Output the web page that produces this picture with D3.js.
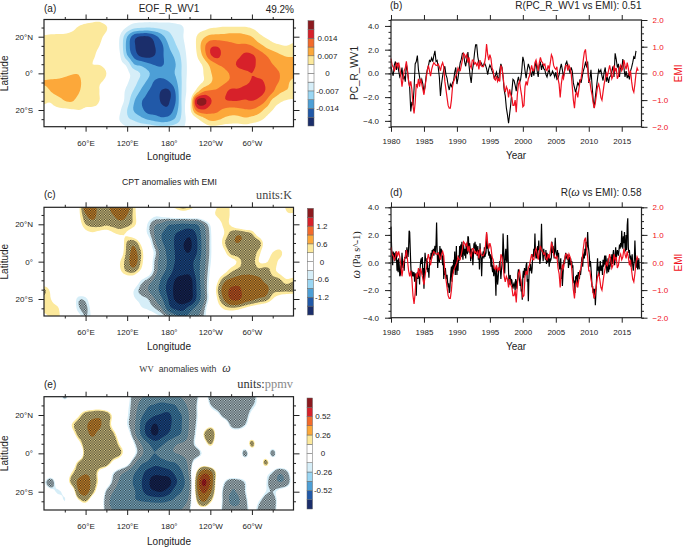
<!DOCTYPE html>
<html><head><meta charset="utf-8">
<script src="https://cdn.jsdelivr.net/npm/d3@7"></script>
<style>html,body{margin:0;padding:0;background:#fff}svg{display:block}text{font-family:"Liberation Sans",Arial,sans-serif;fill:#222}</style>
</head><body>
<svg id="chart" width="685" height="548"></svg>
<script>
// Field values on a 10 deg x 5 deg grid, in units of one contour interval. Rows run from 30N to 30S, columns 0 to 360E.
const fieldA = [
[0,.2,.2,.2,.3,.4,.6,.7,.7,.3, 0,-.2,-.4,-.6,-.6,-.6,-.6,-.6,-.6,-.5, -.3,0,.1,.1,.2,.2,.2,.2,.2,.1, .1,.1,.1,.1,.1,.1,.1],
[.3,.3,.4,.5,.7,1.1,1.3,1.4,1.5,1.1, .2,-.4,-1.1,-1.7,-1.9,-2,-1.9,-1.7,-1.6,-1.4, -1.1,-.1,.4,.6,.9,1,1.1,1.1,1.1,1.1, .9,.6,.5,.4,.3,.3,.3],
[1.1,1.2,1.2,1.2,1.3,1.4,1.5,1.4,1.2,.7, -.1,-1.1,-3,-4.6,-5.1,-5.1,-4.4,-3.4,-2.4,-1.7, -1.1,-.1,1,1.8,2.3,2.4,2.4,2.5,2.5,2.3, 2,1.3,.9,.7,.6,.6,.6],
[1.2,1.2,1.3,1.3,1.3,1.3,1.3,1.2,1,.5, -.3,-1.2,-3.4,-4.8,-5.7,-5.7,-5,-4.2,-3,-2.1, -1.3,-.3,1.1,2.6,3.8,3.9,3.5,3.2,3.1,3.2, 3,2.4,1.8,1.3,1.1,1,1.2],
[1.2,1.2,1.2,1.2,1.2,1.2,1.2,1.1,.8,.3, -.2,-1,-3,-4.4,-5.3,-5.4,-5,-4.2,-3.4,-2.7, -1.6,-.4,.9,2.3,3.9,4.4,3.5,3.3,3.7,4.2, 4.1,3.6,3,2.6,2.1,1.9,1.9],
[1.2,1.2,1.2,1.2,1.2,1.2,1.1,1,.9,.5, -.1,-.7,-1.3,-3,-3.3,-3.8,-4.1,-4.1,-3.6,-3, -1.8,-.5,.5,1.2,2.3,3,3.2,3.5,4.2,4.4, 4.2,3.8,3.3,3,2.6,2.3,2.2],
[1.4,1.5,1.5,1.7,1.9,1.9,1.2,1.2,2,1, .2,-.3,-.8,-1.4,-2.1,-2.8,-3.5,-3.7,-3.4,-2.9, -1.8,-.5,.4,1,1.9,2.4,2.8,3.1,3.5,3.8, 4,3.8,3.7,3.4,3,2.5,2.2],
[2.1,2.2,2.3,2.4,2.5,2.4,1.2,1.1,1.1,.6, .1,-.4,-.9,-1.6,-2.5,-3.3,-4.2,-4.4,-4.1,-3.3, -1.8,-.4,.4,1.1,1.9,2.5,2.9,3.2,3.5,3.8, 4.1,4.2,3.9,3.4,2.9,2.2,1.8],
[1.5,2,2.4,2.5,2.5,2.1,1.3,1.2,1,.6, .1,-.5,-1.3,-2.2,-3.2,-4,-4.5,-5.1,-5.2,-3.9, -1.7,-.4,1.5,3,3.2,3.2,3.7,4.3,4.2,4.4, 4.5,4.4,3.9,3.1,2.2,1.9,1.8],
[1.1,1.1,1.5,2,2.1,1.6,1.2,1.1,1,.7, .2,-.5,-1.5,-2.9,-3.9,-4.3,-4.6,-5.1,-5.1,-4, -1.6,.2,4.9,5.5,4.2,3.4,3.9,4,4,3.9, 4,3.7,3,1.7,1.2,.9,.8],
[.8,.8,.8,.8,.9,1,.9,.9,.8,.4, .1,-.9,-2,-3.1,-3.7,-4.4,-4.5,-4.7,-4.7,-3.5, -1.7,.5,3.3,3.9,3.4,3.2,2.8,2.6,2.7,2.9, 2.9,2.5,1.7,1,.5,.3,.2],
[.1,.1,.1,.2,.3,.6,.5,.3,.2,.1, -.4,-1.1,-1.8,-2.2,-2.7,-3.1,-3.4,-3.7,-3.5,-2.8, -1.6,-.3,.7,1.6,2.3,2.2,1.8,1.6,1.6,1.8, 1.6,1.3,.8,.3,.1,.1,.1],
[0,0,0,0,0,0,0,0,0,0, -.3,-.6,-.9,-1.1,-1.2,-1.3,-1.5,-1.6,-1.6,-1.4, -1.2,-.2,.2,.4,.6,.6,.5,.5,.5,.5, .4,.2,.1,0,0,0,0]
];
const fieldC = [
[.3,.3,.3,.3,.3,.8,2.6,2.8,1.5,1.6, 2.6,2.8,2.5,1.2,.4,.1,0,.3,.9,1.3, 1.8,1.4,.9,.4,.4,1,1.2,.9,.3,.1, .1,.1,.1,.1,.3,1.2,1.2],
[.1,.1,.1,.1,.1,.8,1.9,2.4,1.6,1.6, 2,2.4,2,1.2,.4,-.3,-.8,-.7,-.3,-.1, 0,0,0,.1,.6,1.1,1.2,.9,.2,0, 0,0,0,0,.1,.8,.9],
[0,0,0,0,0,.6,1.4,1.6,1.6,1.5, 1.6,1.7,1.6,1.2,.2,-1.1,-1.9,-2.2,-2.9,-3, -3.2,-3.1,-3,-2,-.9,.5,1.1,.9,.3,0, 0,0,0,0,0,0,0],
[0,0,0,0,0,.2,.7,.9,.7,.6, .9,1.1,.9,.4,-.3,-1.1,-2.1,-3,-3.3,-4, -4.3,-4.7,-3.9,-2.4,-1.2,.4,1,1.6,1.9,1.7, 1.4,.5,.2,0,0,0,0],
[0,0,0,0,0,0,.1,.1,.1,.1, .1,.4,1.5,1.8,.8,-.3,-1.8,-2.9,-3.3,-4.2, -4.9,-5.2,-4.2,-2.5,-1.2,.2,1.3,1.9,2,1.9, 1.8,1.7,.5,.1,0,0,0],
[0,0,0,0,0,0,0,0,0,0, .1,.5,1.6,2.2,1.4,-.1,-1.2,-2.5,-3.3,-4.1, -4.8,-5,-4.1,-2.5,-1.2,.1,.8,1.6,1.8,1.9, 1.8,1.2,.5,1,1.3,.3,0],
[0,0,0,0,0,0,0,0,0,0, .3,1,1.7,2.4,1.3,.1,-1.5,-2.5,-3.2,-4.1, -4.5,-4.4,-3.6,-2.4,-1.1,0,.4,.7,1.1,1.7, 1.7,1,.9,1.3,.8,.1,0],
[0,0,0,0,0,0,0,0,0,0, .2,.9,1.5,1.6,.8,-.2,-1.6,-2.6,-3.4,-4.4, -4.6,-4.6,-3.6,-2.3,-.9,.1,.7,1.3,1.6,1.7, 1.8,1.6,1.7,1.2,.8,.3,.1],
[0,0,0,0,0,0,0,0,0,0, .1,.2,.3,.1,-1,-1.6,-2.2,-3.2,-4.2,-5.1, -5.5,-5.5,-3.9,-2.2,-.7,.8,1.8,2.2,2.4,2.5, 2.3,2.2,1.8,1.6,1.5,1.1,1.3],
[1.5,.8,.1,0,0,0,0,0,0,0, 0,-.1,-.3,-1,-1.6,-2,-2.6,-3.4,-4.4,-5.3, -5.8,-5.6,-4,-2.3,-.5,1.3,2.4,3.2,3.3,2.6, 2.5,2.5,2.3,1.6,1.6,1.6,1.7],
[1.2,1,.4,0,-.2,-1.3,-1.2,-.2,0,0, 0,-.1,-.2,-.9,-1.2,-1.4,-2,-2.9,-4.1,-5.2, -5.6,-5.5,-3.9,-2.3,-.6,1,2.1,3.1,3.2,2.5, 2.2,1.9,1.7,1,.5,.2,0],
[1.2,1.2,1.1,.1,-.2,-1.3,-1.6,-.6,-.1,0, 0,-.1,-.1,-.3,-.9,-1.1,-1.4,-2,-3.6,-4.2, -4.4,-3.5,-2.7,-1.7,-.1,.6,1.1,1.3,1.2,.9, .6,.3,.1,0,0,0,0],
[.8,1.1,1.2,.3,-.1,-.6,-1.4,-.8,-.1,0, 0,0,0,0,-.1,-.4,-.7,-1,-1.6,-2.6, -3,-2.7,-2.1,-1.4,-.2,.2,.4,.3,.2,.1, -.3,-1.2,-.5,0,0,0,0]
];
const fieldE = [
[0,0,0,-1.6,0,0,0,0,0,0, 0,-.2,-.6,-1.6,-1.9,-2.1,-2.4,-2.4,-2.3,-2.1, -1.9,-1.7,-1.4,-.3,-1.6,-1.8,-1.8,-1.9,-1.9,-1.9, -1.7,-.7,0,0,0,0,0],
[0,0,0,0,0,.2,.3,.4,.4,.2, 0,-.2,-.8,-1.6,-2.3,-2.9,-3.1,-3.3,-3.2,-3, -2.3,-1.8,-1.2,0,-1.1,-1.6,-1.8,-1.9,-1.9,-1.9, -1.3,-.7,0,0,0,0,0],
[0,0,0,0,.3,.9,1.5,1.7,1.8,1.6, .8,.1,-.9,-1.7,-2.8,-3.4,-3.9,-4.1,-4.2,-3.4, -2.9,-1.9,-1.2,-.1,-.3,-.7,-1.6,-1.9,-1.8,-1.6, -.7,-.1,0,0,0,0,0],
[0,0,0,0,1,1.5,1.9,2.2,2.1,1.6, .7,-.1,-1,-1.8,-3.2,-4.4,-5.1,-4.5,-4.2,-3.6, -2.9,-1.9,-1.1,.1,.6,.4,-.1,-1.4,-1.7,-1.2, -.3,0,0,0,0,0,0],
[0,0,0,0,.6,1.4,1.8,2.1,1.8,1.7, 1.3,.4,-.5,-1.7,-3.1,-4.4,-5.2,-4.4,-3.9,-3.3, -2.8,-1.8,-.9,1,2,.5,0,-.3,-.3,-.1, 0,0,0,0,0,0,0],
[0,0,0,0,0,.7,1.6,1.7,1.7,1.7, 1.6,.9,.2,-1,-2,-2.9,-3.5,-3.2,-2.6,-2.1, -1.9,-1.7,-.8,.3,1.3,.3,0,0,0,0, 1.5,0,0,0,0,0,0],
[0,0,0,0,0,0,1.5,1.6,1.6,1.7, 1.6,1.3,.3,-.8,-1.7,-2.6,-3,-2.6,-2.2,-2, -1.9,-1.8,-1.6,-.8,0,0,0,0,0,-1.6, 0,0,0,-1.6,0,0,0],
[0,0,0,0,.3,1.3,1.7,1.7,1.7,1.6, .7,.1,-.6,-1.8,-2.8,-3.2,-3.7,-3.5,-3.2,-3, -2.4,-1.7,-.3,.3,0,0,0,0,0,0, 0,0,1.5,0,0,0,0],
[0,0,0,.2,1,1.6,1.9,1.7,.8,.1, -1,-1.7,-2.2,-2.9,-3.6,-4.4,-4.7,-4.6,-4.4,-3.7, -3,-1.7,1.1,2.7,2.4,.7,0,0,0,0, 0,-.1,-.6,-1.2,-1.9,-1.4,-.3],
[-.9,-1.7,-.3,.3,1.4,2.2,2.5,1.7,.8,-.3, -1.4,-2.2,-2.7,-3.1,-3.9,-4.8,-5.6,-5.6,-5.4,-4.2, -3.3,-2,1.8,4.3,2.9,.4,-1,-1.7,-1.6,-1.1, -.1,0,-.9,-1.7,-2,-1.7,-.5],
[-.2,-.6,-1.1,-.7,.2,2,2.4,1.4,.3,-1.3, -2,-2.5,-2.8,-2.9,-3.7,-4.5,-4.9,-5,-4.4,-3.4, -2.9,-1.9,1.6,3.2,2.2,.3,-1.5,-2,-1.9,-1.2, -.1,-.2,-1,-1.2,-.7,-.3,0],
[0,0,-.3,-1,-.1,.8,1.2,.3,-.2,-1.6, -2.3,-2.6,-2.6,-2.9,-3,-3.1,-3.2,-3.2,-3,-2.7, -2.4,-1.6,1,2.1,1.2,.1,-1.5,-2.1,-2.1,-1.5, -.4,-1,-1.7,-1.7,-.5,0,0],
[0,0,0,0,0,0,0,0,0,-1.6, -2,-2.1,-2.1,-2.1,-2.1,-2.1,-2.1,-2.1,-2.1,-2, -1.9,-1.2,.2,.4,.1,-.2,-1.6,-1.8,-1.8,-1.6, -.6,-1.4,-1.8,-1.7,-.3,0,0]
];
// Time series, one row per year from 1980
const pcWv1 = [
.6,.1,-.2,.7,1,.3, .9,.2,-.3,-.1,.5,-.5, -.2,-.7,.8,.2,-.6,-1.2, -3.2,-2.4,-2.7,-1.3,.8,1, 1.5,.3,-.3,-.8,-.5,-.9,
-1.6,-1.1,-.2,.3,.6,1.1, 1,1.3,1,1.5,1.9,1, 1.1,.5,-.3,-1.9,-.9,-.2, .3,.6,-.1,-.4,-1,-1.4, -.9,-1.1,-.8,-.6,.1,.5,
-.9,-.4,.3,.9,1.2,1.7, 1.7,1,.6,1.2,1.8,.7, -.2,-.8,.2,.8,1.7,2.4, 2.4,1.4,.9,.7,.9,.7, .6,.9,.7,.4,-.1,.4,
.7,.5,.2,0,-.4,-.2, .1,-.3,-.6,.3,.8,.5, -.3,-1.4,-1.9,-2.9,-3.5,-4.2, -3.4,-2.6,-1.5,-.5,-.6,-1, -1.5,-.7,-.3,-.8,-.5,.2,
1.4,1,.2,-.4,.3,.8, .5,.1,-.3,.4,-.2,.5, 1,.2,-.3,.7,.9,.3, .8,.4,.3,-.1,-.3,.1, .3,-.2,-.1,.2,0,-.3,
.1,-.5,-.4,-.1,.4,.8, .3,-.3,.2,.8,1,.6, .4,0,.5,.2,-.8,-1.2, -1.6,-1.2,-.8,-1,-.5,-.8, -.3,.2,.5,.9,.6,1,
-.8,-.5,.3,-1,-2.2,-2.9, -2,-1.2,-.4,.3,.1,.3, -.2,-.6,.1,.5,-.7,-.3, -.8,-.3,-.2,.2,.6,-.3, 1.7,1.2,.5,.8,-.3,.7,
.3,1.2,.5,-.3,.2,-.4, -.1,-.5,.2,.5,.9,1.4, 1.3,1.9
];
const emi = [
.55,.3,.25,.1,.2,.4, .25,.4,.2,-.1,-.5,-.2, .1,.2,.45,.1,-.3,-.5, -.3,-.6,-1.2,-1.5,-1.1,-.4, -.5,-.2,-.5,-.2,-.4,-.6,
-.8,-.5,-.2,.1,.3,.1, -.1,.15,.3,.4,.35,.3, .3,.35,.25,.1,.3,.4, .25,-.3,-.6,-.9,-1.2,-1.3, -1.3,-1,-.5,-.3,-.2,-.1,
0,.2,.1,.1,.3,.5, .75,.7,.6,.7,.4,.6, .3,.2,.5,.5,.35,.4, .3,.4,.15,.5,.3,.25, .25,.35,.6,1.1,.7,.5,
.7,.55,.2,.1,-.2,-.25, -.1,-.3,-.2,-.3,.3,.2, -.1,-.5,-.7,-.5,-.6,-.9, -.6,-.8,-.9,-1.2,-1.2,-1, -1.45,-.8,-.4,-.3,-.6,-.85,
-1.25,-1.2,-.5,-.3,-.45,-.2, -.1,.1,.3,.1,.1,.4, .5,.3,.1,.4,.6,.45, .4,.3,.35,.15,.1,.3, .15,.4,.7,.6,.3,.2,
.15,.25,-.2,-.4,-.9,-.4, -.1,-.2,.1,.3,.3,.1, .3,.2,0,-.5,-1,-1.3, -.8,-.7,-.9,-.6,-.3,-.2, .1,.5,.8,.9,.5,.2,
-.3,-.3,-.6,-.8,-1.1,-1.3, -1.1,-.8,-.5,-.4,-.6,-.9, -1,-.7,-.4,-.2,0,-.1, .1,.3,.1,-.2,-.1,.3, .1,.2,-.2,-.1,.2,.3,
.1,.2,.5,.3,.15,.4, .2,-.1,.1,-.3,-.6,-.7, -.4,0,.2,.1
];
const omega = [
2.6,1.2,.3,-.2,.8,.5,.7,.1,.4,.8,.3,-.6, .2,-.7,.3,-.2,-1,-.9,-.2,-.5,.7,.1,-.4,.1, -.6,.4,.3,.9,.3,1.1,.7,.4,1,2.3,2.2,1,
-.2,-1,-.6,-.9,-.8,-1,-.7,-1.4,-.8,-.9,-2.4,-1, -.7,-1.2,-.6,-.5,-1.6,-.4,.1,.3,-.1,.4,-.9,-.4, -1.9,-.4,.7,.1,.3,-.5,.1,-.7,-.4,-1.1,-.1,.4,
.2,.7,.3,.9,.6,1,.5,.9,1.2,.7,1.4,2.9, .9,-.4,.6,.7,0,1.2,.4,1,.9,.3,-.2,.5, -1.2,-.6,-.9,-.4,-1,-1.2,-.9,-1.4,-1.8,-1.5,-2.2,-2.1,
-1.3,-.7,-.3,-1.4,-.2,-.8,.2,-.5,.8,-.9,-.2,1.2, -.9,.3,-.6,.5,.1,1.2,.5,1.3,.4,1.5,.7,.2, 1.3,.8,.5,1,.3,1.4,.9,.6,1.9,1.8,.7,1.4,
1.1,.1,1,.3,.8,-.2,.5,1.4,1,1.5,.6,1.3, .9,.5,1.2,.2,.9,-.5,1.4,.6,.3,-1,.2,.6, .8,.3,1.1,.4,.6,.7,2.1,1,1.4,.9,.5,.8,
.3,.6,-.3,.5,-.4,-.7,-.2,-1,-.6,-.4,-1.1,-2.4, -.3,-.9,-1.6,-1.2,-.6,-.3,.1,-.4,-1.2,-.6,-.2,.3, 2.1,1,-.4,-.8,.5,1,.2,0,2,.7,-.7,-1.6,
-1.1,-.9,-1.6,-1.2,-1.3,-1.7,-1.9,-1.6,-1.5,-1.7,-2,-1.2, -1.4,-1.9,-1.5,-.8,-.5,-1,-1.3,-1.7,-1.2,-2.1,-1.9,-2.7, -1,-.6,-1.1,-.4,-.9,-.7,-.2,0,-1.4,-1.2,-2.8,-1.2,
-.4,-.6,-.1,-.5,-.8,-.4,.6,.4,1,.6,2.1,.7, .3,1,.3,1.2,.9,1.6,.6,-.1,.3,1.2,2.8,.9, .7,.1,1,.5,.6,.2,.9,-.1,.7,0,.6,.3,
-.3,.3,.1,.2,.4,1.5,.7,1.2,.9,.3,1,1.8, .8,.6,.3,.9,.4,.7,-.2,-.5,-.1,.3,-1.2,-.4, -1.7,-.9,-.3,.2,-.1,.4,.7,.3,.5,.2,.6,-.4,
.1,.4,-.2,.3,-.2,.1,-.4,-.2,-1.2,-1.5,-1.3,-2.2, -1,-1.2,-.9,-1.8,-1,-.7,-.9,-1.2,-.6,-.9,-.5,.2, .4,-.3,.5,.6,.3,1,.5,1.5,.9,1.2,2.2,1.2,
.9,.5,-.3,.1,-.4,-1,-1.8,-1.7,-2.2,-1.9,-2.6,-1.9, -3.1,-2.2,-1.4,-.4,.3,-.6,-.3,-1,-.4,.1,-.6,-.5, -.2,-.9,.2,-.3,.1,.5,-.2,.5,.1,-.8,-.4,.3,
-.7,-.2,-.5,.2,.4,-.3,.6,-.1,.5,.9,.4,-.2, .3,1.1,.2,.6,.9,.7,.5,.9,1.3,1,1.4,1.1, 2.3,1.4,1,1.9,1.4,2.2,1.1,.8,2,.9,2.7,3.2,
1.1,.7,.9,.3,.5,-.3,.1,.6,-.2,-.6,-.2,.2, 1.6,.5,-.4,-.1,.3,-.5,-.2,.3,-.5
];
const lonTicks = [60,120,180,240,300];
const lonLabels = ["60°E","120°E","180°","120°W","60°W"];
const lonMinor = [30,90,150,210,270,330];
const latTicks = [20,0,-20];
const latLabels = ["20°N","0°","20°S"];
const latMinor = [25,15,10,5,-5,-10,-15,-25];
const levelColors = ["#1b2e6b","#2159a8","#4d9fd6","#9ad6f3","#d6eef8","#ffffff","#ffffff","#fce99c","#fca83a","#f26a2b","#d7212a","#8c1a1f"];
const levels = [-5,-4,-3,-2,-1,0,1,2,3,4,5];
const yearTicks = [1980,1985,1990,1995,2000,2005,2010,2015];

const svg = d3.select("#chart");
const defs = svg.append("defs");
const pat = defs.append("pattern").attr("id","stip").attr("patternUnits","userSpaceOnUse").attr("width",2.5).attr("height",2.5);
pat.append("rect").attr("width",2.5).attr("height",2.5).attr("fill","#000").attr("opacity",.12);
pat.append("rect").attr("x",0).attr("y",0).attr("width",1.25).attr("height",1.25).attr("fill","#000").attr("opacity",.68);
pat.append("rect").attr("x",1.25).attr("y",1.25).attr("width",1.25).attr("height",1.25).attr("fill","#000").attr("opacity",.68);

// Catmull-Rom refinement so contours are smooth
function refine(grid,f){
  const cr=(a,b,c,d,t)=>b+.5*t*(c-a+t*(2*a-5*b+4*c-d+t*(3*(b-c)+d-a)));
  const n=grid.length,m=grid[0].length;
  const N=(n-1)*f+1,M=(m-1)*f+1,rows=[];
  const cl=(i,h)=>Math.max(0,Math.min(h-1,i));
  for(let j=0;j<N;j++){const gy=j/f,y0=Math.min(n-2,Math.floor(gy)),ty=gy-y0;
    const row=[];
    for(let i=0;i<M;i++){const gx=i/f,x0=Math.min(m-2,Math.floor(gx)),tx=gx-x0;
      const col=[-1,0,1,2].map(dy=>{const r=grid[cl(y0+dy,n)];
        return cr(r[cl(x0-1,m)],r[x0],r[x0+1],r[cl(x0+2,m)],tx);});
      row.push(cr(col[0],col[1],col[2],col[3],ty));
    }
    rows.push(row);
  }
  return {values:rows.flat(),M,N,f};
}

function axisStyle(g,w){
  g.select(".domain").remove();
  g.selectAll("line").attr("stroke","#222").attr("stroke-width",w||1);
  g.selectAll("text").attr("font-size",8).attr("fill","#222");
}
let clipId=0;
function mapPanel(o){
  const x=d3.scaleLinear([0,360],[44,293.5]);
  const y=d3.scaleLinear([20,-20],[o.y20,o.ym20]);
  const g=svg.append("g"); const id="clip"+(clipId++);
  defs.append("clipPath").attr("id",id).append("rect").attr("x",44).attr("y",o.top).attr("width",249.5).attr("height",o.bottom-o.top);
  const r=refine(o.field,4);
  const path=d3.geoPath(d3.geoTransform({point(a,b){
    const lon=(a-.5)/(r.M-1)*360, lat=30-(b-.5)/(r.N-1)*60;
    this.stream.point(x(lon),y(lat));}}));
  const body=g.append("g").attr("clip-path",`url(#${id})`);
  body.append("rect").attr("x",44).attr("y",o.top).attr("width",250).attr("height",o.bottom-o.top).attr("fill",levelColors[0]);
  const cs=d3.contours().size([r.M,r.N]).thresholds(levels)(r.values);
  body.selectAll("path.band").data(cs).join("path").attr("class","band")
    .attr("d",path).attr("fill",(d,i)=>levelColors[i+1]);
  if(o.stippleAt){
    const abs=r.values.map(Math.abs);
    const st=d3.contours().size([r.M,r.N]).thresholds([o.stippleAt])(abs);
    body.selectAll("path.st").data(st).join("path").attr("class","st").attr("d",path).attr("fill","url(#stip)");
  }
  // axes
  const ax=(fn,scale,vals,labels,size,tx,ty)=>{
    const a=fn(scale).tickValues(vals).tickSize(size).tickFormat(labels?(d,i)=>labels[i]:"");
    const s=g.append("g").attr("transform",`translate(${tx},${ty})`).call(a);axisStyle(s);return s;};
  ax(d3.axisBottom,x,lonMinor,null,2.5,0,o.bottom);
  ax(d3.axisTop,x,lonMinor,null,2.5,0,o.top);
  ax(d3.axisLeft,y,latMinor,null,2.5,44,0);
  ax(d3.axisRight,y,latMinor,null,2.5,293.5,0);
  ax(d3.axisTop,x,lonTicks,null,5,0,o.top);
  ax(d3.axisRight,y,latTicks,null,6,293.5,0);
  ax(d3.axisLeft,y,latTicks,latLabels,5.5,44,0).selectAll("text").attr("x",-11);
  ax(d3.axisBottom,x,lonTicks,lonLabels,5,0,o.bottom).selectAll("text").attr("y",13.5).attr("dy",".71em");
  g.append("rect").attr("x",44).attr("y",o.top).attr("width",249.5).attr("height",o.bottom-o.top)
    .attr("fill","none").attr("stroke","#222").attr("stroke-width",1.2);
  // colour bar
  const cb=d3.scaleLinear([0,12],[o.cbBottom,o.cbTop]);
  g.selectAll("rect.cb").data(levelColors).join("rect").attr("class","cb")
    .attr("x",o.cbX).attr("width",o.cbW).attr("y",(d,i)=>cb(i+1)).attr("height",(o.cbBottom-o.cbTop)/12)
    .attr("fill",d=>d).attr("stroke","#666").attr("stroke-width",.5);
  g.selectAll("text.cbl").data(o.cbLabels).join("text").attr("class","cbl")
    .attr("x",o.cbLx).attr("y",(d,i)=>cb(2+2*i)+2.9).attr("text-anchor","middle").attr("font-size",8).text(d=>d);
  text(44,o.tagY,o.tag,10,"start");
  text(169,o.xTitleY,"Longitude",10,"middle");
  vtext(o.yTitleX,y(0),"Latitude",10);
}
function text(x,y,s,size,anchor,color){
  return svg.append("text").attr("x",x).attr("y",y).attr("font-size",size).attr("text-anchor",anchor||"start").style("fill",color||"#222").text(s);
}
function vtext(x,y,s,size,color){
  return svg.append("text").attr("transform",`translate(${x},${y}) rotate(-90)`).attr("font-size",size).attr("text-anchor","middle").style("fill",color||"#222").text(s);
}
function seriesPanel(o){
  const x=d3.scaleLinear([1980,2018],[391,641.5]);
  const yL=d3.scaleLinear(o.dom,[o.bottom,o.top]);
  const yR=d3.scaleLinear([-2,2],[o.bottom,o.top]);
  const g=svg.append("g");
  const line=(vals,n,scale)=>d3.line().x((d,i)=>x(1980+i/n)).y(d=>scale(d))(vals);
  g.append("line").attr("x1",391).attr("x2",641.5).attr("y1",yL(0)).attr("y2",yL(0)).attr("stroke","#222").attr("stroke-width",.8);
  g.append("path").attr("d",line(o.black,o.blackN,yL)).attr("fill","none").attr("stroke","#000").attr("stroke-width",o.blackW);
  g.append("path").attr("d",line(emi,6,yR)).attr("fill","none").attr("stroke","#f01020").attr("stroke-width",1.2);
  const ax=(a,tx,ty)=>{const s=g.append("g").attr("transform",`translate(${tx},${ty})`).call(a);axisStyle(s);return s;};
  const fmt=d3.format(".1f");
  ax(d3.axisLeft(yL).tickValues(d3.range(o.dom[0],o.dom[1]+.01,.5)).tickSize(2.5).tickFormat(""),391,0);
  ax(d3.axisRight(yR).tickValues(d3.range(-2,2.01,.25)).tickSize(2.5).tickFormat(""),641.5,0);
  ax(d3.axisLeft(yL).tickValues(o.ticks).tickSize(6).tickPadding(6).tickFormat(d=>fmt(d).replace("-0.0","0.0")),391,0);
  const r=ax(d3.axisRight(yR).tickValues([-2,-1,0,1,2]).tickSize(6).tickPadding(5).tickFormat(fmt),641.5,0);
  r.selectAll("text").style("fill","#f01020");
  ax(d3.axisTop(x).tickValues(yearTicks).tickSize(5).tickFormat(""),0,o.top);
  ax(d3.axisBottom(x).tickValues(yearTicks).tickSize(5).tickPadding(6.5).tickFormat(d3.format("d")),0,o.bottom);
  g.append("rect").attr("x",391).attr("y",o.top).attr("width",250.5).attr("height",o.bottom-o.top)
    .attr("fill","none").attr("stroke","#222").attr("stroke-width",1.2);
  text(390,o.tagY,o.tag,10,"start");
  text(516,o.bottom+32,"Year",10,"middle");
  vtext(682,(o.top+o.bottom)/2,"EMI",10,"#f01020");
}

mapPanel({field:fieldA,top:19.5,bottom:126.7,y20:36.7,ym20:110,stippleAt:0,
  cbX:308,cbW:6,cbTop:20.7,cbBottom:126,cbLx:327.5,
  cbLabels:["-0.014","-0.007","0","0.007","0.014"],tag:"(a)",tagY:12,xTitleY:160,yTitleX:8});
mapPanel({field:fieldC,top:207.3,bottom:316,y20:224.3,ym20:299,stippleAt:1.4,
  cbX:307.5,cbW:6,cbTop:208.3,cbBottom:315,cbLx:322,
  cbLabels:["-1.2","-0.6","0","0.6","1.2"],tag:"(c)",tagY:198,xTitleY:349.5,yTitleX:8});
mapPanel({field:fieldE,top:396.7,bottom:510,y20:415,ym20:491.7,stippleAt:1.2,
  cbX:307,cbW:5.5,cbTop:398,cbBottom:509,cbLx:323,
  cbLabels:["-0.52","-0.26","0","0.26","0.52"],tag:"(e)",tagY:388,xTitleY:544.5,yTitleX:8});

text(169,12,"EOF_R_WV1",10,"middle");
text(294,13,"49.2%",10,"end");
text(169.5,184.5,"CPT anomalies with EMI",8.7,"middle");
const sr=svg.append("text").attr("x",292).attr("y",199).attr("text-anchor","end").attr("font-size",12.2).style("font-family","'Liberation Serif',serif").style("fill","#444").text("units:K");
const e1=svg.append("text").attr("x",185).attr("y",372).attr("text-anchor","middle").attr("font-size",8.7).style("fill","#333");
e1.append("tspan").style("font-family","'Liberation Serif',serif").text("WV");
e1.append("tspan").attr("dx",5).text("anomalies with");
e1.append("tspan").attr("dx",6).style("font-family","'Liberation Serif',serif").style("font-style","italic").attr("font-size",12).text("ω");
const e2=svg.append("text").attr("x",293).attr("y",388).attr("text-anchor","end").attr("font-size",12.4).style("font-family","'Liberation Serif',serif").style("fill","#333");
e2.append("tspan").text("units:");
e2.append("tspan").style("fill","#888").text("ppmv");

seriesPanel({black:pcWv1,blackN:6,blackW:1.1,dom:[-4.5,4.5],top:20,bottom:126.8,ticks:[-4,-2,0,2,4],tag:"(b)",tagY:9});
seriesPanel({black:omega,blackN:12,blackW:1.2,dom:[-4,4],top:207.3,bottom:317.7,ticks:[-4,-2,0,2,4],tag:"(d)",tagY:196});
text(641.5,9,"R(PC_R_WV1 vs EMI): 0.51",10,"end");
const dt=svg.append("text").attr("x",641.5).attr("y",196).attr("text-anchor","end").attr("font-size",10).style("fill","#222");
dt.append("tspan").text("R(");
dt.append("tspan").style("font-family","'Liberation Serif',serif").style("font-style","italic").attr("font-size",12).text("ω");
dt.append("tspan").text(" vs EMI): 0.58");
vtext(358,73,"PC_R_WV1",10);
const dl=svg.append("text").attr("transform","translate(360,255) rotate(-90)").attr("text-anchor","middle").attr("font-size",10).style("fill","#222").style("font-family","'Liberation Serif',serif");
dl.append("tspan").style("font-style","italic").attr("font-size",12).text("ω");
dl.append("tspan").text(" (Pa s^-1)");
</script>
</body></html>
